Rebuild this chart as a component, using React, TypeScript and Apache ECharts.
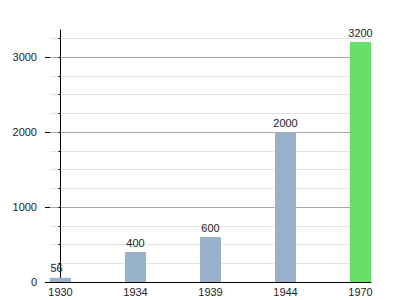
import React, { useEffect, useRef } from "react";
import * as echarts from "echarts";

const years = ["1930", "1934", "1939", "1944", "1970"];
const values = [56, 400, 600, 2000, 3200];
const barColors = ["#98b2cb", "#98b2cb", "#98b2cb", "#98b2cb", "#66e066"];
const majorTicks = [0, 1000, 2000, 3000];
const allTicks = [0, 250, 500, 750, 1000, 1250, 1500, 1750, 2000, 2250, 2500, 2750, 3000, 3250];

const FONT = "Liberation Sans, Arial, Helvetica, sans-serif";

export default function App() {
  const ref = useRef<HTMLDivElement>(null);
  useEffect(() => {
    document.body.style.margin = "0";
    if (!ref.current) return;
    const chart = echarts.init(ref.current, null, { renderer: "svg" });
    chart.setOption({
      animation: false,
      grid: { left: 50, right: 29, top: 30, bottom: 18 },
      xAxis: {
        type: "value",
        min: -0.14,
        max: 4.14,
        axisLine: { show: true, onZero: false, lineStyle: { color: "#000", width: 1 } },
        axisTick: { show: false },
        splitLine: { show: false },
        axisLabel: {
          customValues: [0, 1, 2, 3, 4],
          formatter: (v: number) => years[Math.round(v)] ?? "",
          color: "#222",
          fontSize: 11,
          fontFamily: FONT,
          margin: 4,
        },
      },
      yAxis: [
        {
          type: "value",
          min: 0,
          max: 3360,
          position: "left",
          axisLine: { show: true, lineStyle: { color: "#000", width: 1 } },
          axisTick: { show: true, customValues: allTicks, length: 2, lineStyle: { color: "#000" } },
          axisLabel: { show: false },
          splitLine: {
            show: true,
            lineStyle: { color: ["#a8a8a8", "#e4e4e4", "#e4e4e4", "#e4e4e4"], width: 1 },
          },
        },
        {
          type: "value",
          min: 0,
          max: 3360,
          position: "left",
          axisLine: { show: false },
          axisTick: { show: true, customValues: majorTicks, length: 5, lineStyle: { color: "#000" } },
          axisLabel: {
            customValues: majorTicks,
            formatter: (v: number) => String(v),
            color: "#222",
            fontSize: 11,
            fontFamily: FONT,
            margin: 13,
          },
          splitLine: { show: false },
        },
      ],
      series: [
        {
          type: "bar",
          barWidth: 21,
          data: values.map((v, i) => ({
            value: [i, v],
            itemStyle: { color: barColors[i] },
            label: i === 0 ? { offset: [-4, 0] } : undefined,
          })),
          label: {
            show: true,
            position: "top",
            distance: 4,
            color: "#222",
            fontSize: 11,
            fontFamily: FONT,
            formatter: (p: any) => String(p.value[1]),
          },
        },
      ],
    });
    return () => chart.dispose();
  }, []);
  return <div ref={ref} style={{ width: 400, height: 300 }} />;
}
